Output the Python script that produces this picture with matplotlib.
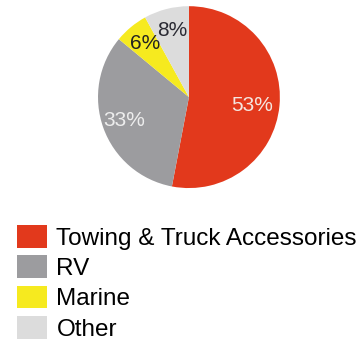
import matplotlib.pyplot as plt

# revenue share by segment
segments = ["Towing & Truck Accessories", "RV", "Marine", "Other"]
shares = [53, 33, 6, 8]
colors = ["#E2391C", "#9C9C9F", "#F6EA1F", "#DCDCDC"]
pct_colors = ["#F4E6E0", "#EDEDED", "#222222", "#2A2A33"]

plt.rcParams["font.family"] = ["Liberation Sans", "DejaVu Sans"]

fig = plt.figure(figsize=(3.63, 3.42), dpi=100)
ax = fig.add_axes([0.270, 0.450, 0.501, 0.532])

wedges, texts, autotexts = ax.pie(
    shares, colors=colors, startangle=90, counterclock=False,
    autopct=lambda p: f"{round(p)}%", pctdistance=0.76,
    wedgeprops=dict(linewidth=0),
)
for t, c in zip(autotexts, pct_colors):
    t.set_color(c)
    t.set_fontsize(15)
autotexts[0].set_position((0.70, -0.09))
ax.set_xlim(-1.0, 1.0)
ax.set_ylim(-1.0, 1.0)
ax.set_aspect("equal")

fig.legend(
    wedges, segments, loc="upper left", bbox_to_anchor=(0.047, 0.342),
    frameon=False, fontsize=17.5, handlelength=1.22, handleheight=1.05,
    handletextpad=0.4, labelspacing=0.24, borderaxespad=0, borderpad=0,
)

fig.savefig("out.png", dpi=100)
